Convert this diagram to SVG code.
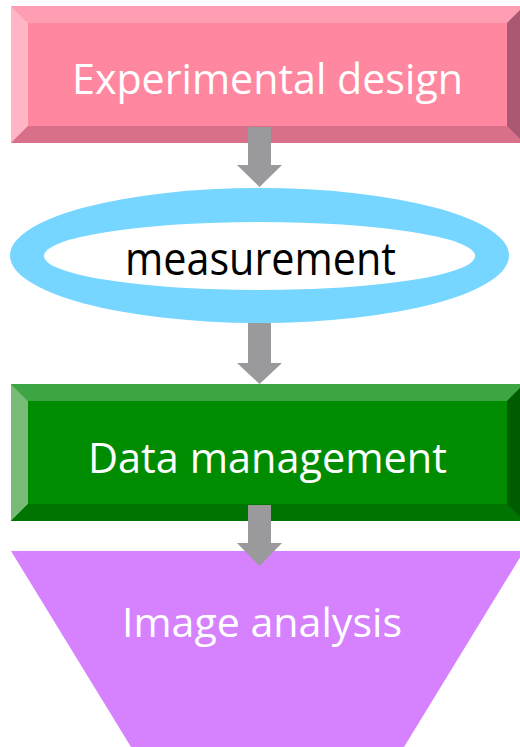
<svg xmlns="http://www.w3.org/2000/svg" width="520" height="747" viewBox="0 0 520 747">
  <style>
    .lbl { font-family: "Open Sans", "Liberation Sans", sans-serif; }
    .white { fill: #ffffff; }
    .arrow { fill: #9a9a9c; }
  </style>
  <rect width="520" height="747" fill="#ffffff"/>

  <!-- Step 1: bevelled pink box -->
  <g id="experimental-design">
    <rect x="11" y="6" width="513" height="137" fill="#ff87a0"/>
    <polygon points="11,6 524,6 507,23 28,23" fill="#ff9db3"/>
    <polygon points="11,6 28,23 28,126 11,143" fill="#ffb5c6"/>
    <polygon points="11,143 28,126 507,126 524,143" fill="#d9708a"/>
    <polygon points="524,6 524,143 507,126 507,23" fill="#a85870"/>
    <text class="lbl white" x="72" y="94" font-size="42" textLength="391" lengthAdjust="spacingAndGlyphs">Experimental design</text>
  </g>

  <!-- Step 2: ring ellipse -->
  <g id="measurement">
    <ellipse cx="259.5" cy="255.5" rx="249.5" ry="67.5" fill="#77d6ff"/>
    <ellipse cx="259.5" cy="256" rx="215.5" ry="34" fill="#ffffff"/>
    <text class="lbl" x="125" y="275" font-size="45" fill="#000000" textLength="271" lengthAdjust="spacingAndGlyphs">measurement</text>
  </g>

  <!-- Step 3: bevelled green box -->
  <g id="data-management">
    <rect x="11" y="384" width="513" height="137" fill="#008c00"/>
    <polygon points="11,384 524,384 507,401 28,401" fill="#3da543"/>
    <polygon points="11,384 28,401 28,504 11,521" fill="#77bb77"/>
    <polygon points="11,521 28,504 507,504 524,521" fill="#007400"/>
    <polygon points="524,384 524,521 507,504 507,401" fill="#005c00"/>
    <text class="lbl white" x="88" y="473" font-size="42" textLength="359" lengthAdjust="spacingAndGlyphs">Data management</text>
  </g>

  <!-- Step 4: inverted trapezoid -->
  <g id="image-analysis">
    <polygon points="11,551 524,551 404,747 131,747" fill="#d682ff"/>
    <text class="lbl white" x="122" y="637" font-size="41" textLength="280" lengthAdjust="spacingAndGlyphs">Image analysis</text>
  </g>

  <!-- Block arrows between steps -->
  <g id="connectors">
    <polygon class="arrow" points="248,127 271,127 271,165 282,165 259.5,187 237,165 248,165"/>
    <polygon class="arrow" points="248,323 271,323 271,363 282,363 259.5,384 237,363 248,363"/>
    <polygon class="arrow" points="248,505 271,505 271,543 282,543 259.5,566 237,543 248,543"/>
  </g>
</svg>
